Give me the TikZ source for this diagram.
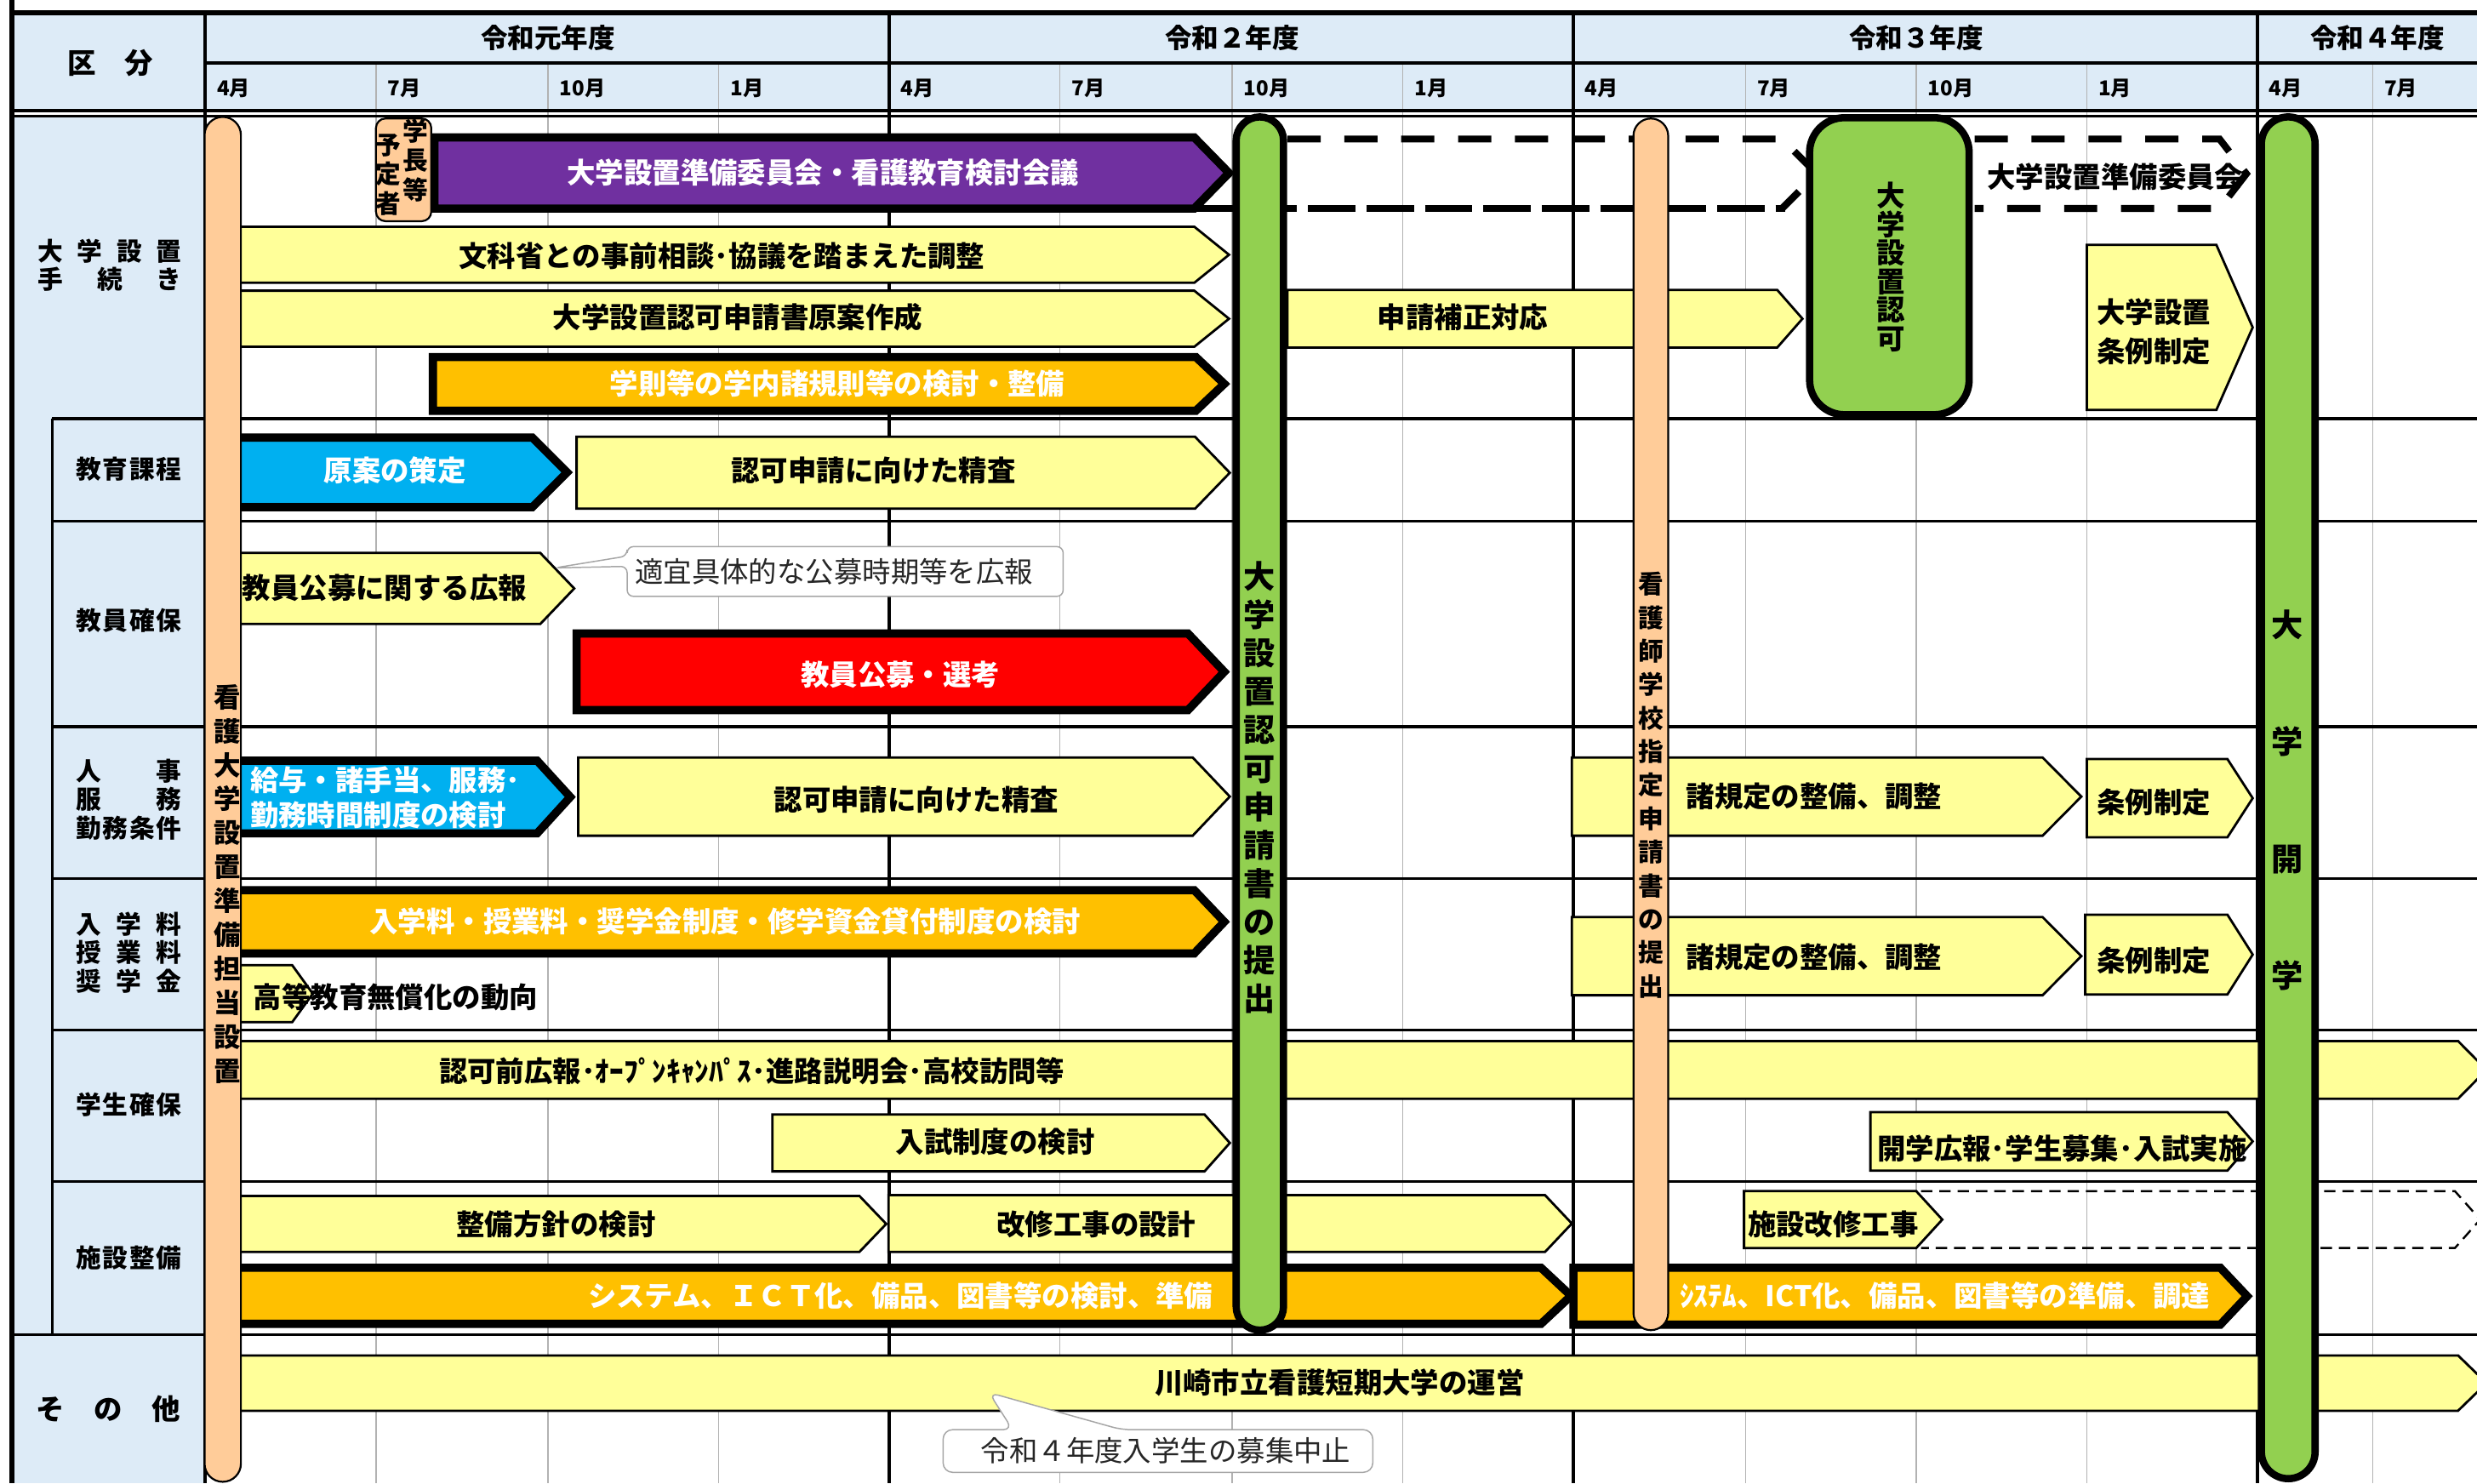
\documentclass[tikz,border=0pt]{standalone}
\usepackage{fontspec}
\setmainfont{Noto Sans CJK JP}
\definecolor{hdr}{HTML}{DDEBF7}
\definecolor{barY}{HTML}{FFFF99}
\definecolor{barO}{HTML}{FFC000}
\definecolor{barB}{HTML}{00B0F0}
\definecolor{barP}{HTML}{7030A0}
\definecolor{barR}{HTML}{FF0000}
\definecolor{barG}{HTML}{92D050}
\definecolor{peach}{HTML}{FFCC99}
% chevron: [style]{left}{tip}{top}{bottom}{tip depth}
\newcommand{\chev}[6][]{\draw[#1] (#2,#4) -- ({#3-#6},#4) -- (#3,{(#4+#5)/2}) -- ({#3-#6},#5) -- (#2,#5) -- cycle;}
\begin{document}
\begin{tikzpicture}[x=0.5pt,y=-0.5pt]
	\tikzstyle{every node}=[inner sep=0pt, font=\bfseries\fontsize{9}{11}\selectfont]
	\tikzstyle{heavy}=[draw=black, line width=2.6pt, line join=miter]
	\tikzstyle{pale}=[draw=black, line width=0.75pt, fill=barY, line join=miter]
	\tikzstyle{month}=[anchor=west, font=\bfseries\fontsize{6.5}{7}\selectfont]
	\tikzstyle{side}=[font=\bfseries\fontsize{8}{9}\selectfont]
	\tikzstyle{note}=[font=\fontsize{9}{10}\selectfont, text=black!85]
	\tikzstyle{callout}=[draw=black!35, line width=0.4pt, fill=white, rounded corners=2pt]
	\tikzstyle{grn}=[draw=black, line width=2.3pt, fill=barG]
	\tikzstyle{pch}=[draw=black, line width=0.6pt, fill=peach]
	\tikzstyle{wht}=[text=white]

	\useasboundingbox (0,0) rectangle (1568,939);
	\clip (0,0) rectangle (1568,939);
	\fill[white] (0,0) rectangle (1568,939);

	% header and side column
	\fill[hdr] (8,8) rectangle (1568,70);
	\fill[hdr] (8,74) rectangle (130,939);
	\foreach \x in {238,347,455,671,780,888,1105,1213,1321,1502}
		\draw[black!30, line width=0.4pt] (\x,40) -- (\x,939);
	\foreach \x in {563,996,1429}
		\draw[line width=1pt] (\x,8) -- (\x,939);
	\draw[line width=1pt] (130,8) -- (130,939);
	\draw[line width=1pt] (130,40) -- (1568,40);
	\draw[line width=1pt] (8,70) -- (1568,70);
	\draw[line width=0.8pt] (8,73.5) -- (1568,73.5);
	\draw[line width=1.5pt] (8,8) -- (1568,8);
	\draw[line width=1.7pt] (7.5,0) -- (7.5,939);
	\foreach \y in {265,330,460,556,652,748}
		\draw[line width=0.9pt] (33,\y) -- (1568,\y);
	\draw[line width=0.9pt] (8,845) -- (1568,845);
	\draw[line width=0.9pt] (33,265) -- (33,845);

	% 大学設置手続き
	\chev[heavy, fill=barP]{275}{778}{87}{132}{22}
	\draw[line width=2.2pt, dash pattern=on 15pt off 3.5pt] (754,132) -- (1130,132);
	\draw[line width=2.2pt, dash pattern=on 10.5pt off 7.5pt] (815,88) -- (1128,88) -- (1150,110) -- (1128,132);
	\draw[line width=2.2pt, dash pattern=on 10.5pt off 7.5pt] (1250,88) -- (1405,88) -- (1422,110) -- (1405,132) -- (1250,132);
	\chev[pale]{145}{778}{143.5}{179}{22}
	\chev[pale]{145}{778}{184}{219.5}{22}
	\chev[pale]{815}{1141}{183.5}{220}{16}
	\chev[heavy, fill=barO]{274}{775}{226}{260}{18}
	\chev[pale]{1321}{1426}{155}{259.5}{23}

	% 教育課程・教員確保
	\chev[heavy, fill=barB]{150}{359}{277}{321}{22}
	\chev[pale]{365}{778.5}{276.5}{322}{22}
	\chev[pale]{145}{363.5}{350}{395}{21.5}
	\draw[callout] (500,346) -- (397,346) -- (397,352) -- (351,359.5) -- (397,358.5) -- (397,377.5) -- (673,377.5) -- (673,346) -- cycle;
	\chev[heavy, fill=barR]{365}{775}{401}{449.5}{23}

	% 人事・入学料
	\chev[heavy, fill=barB]{150}{361}{481.5}{527.5}{21}
	\chev[pale]{366}{778.5}{479.5}{529}{23.5}
	\chev[pale]{995}{1317.5}{479.5}{529}{24.5}
	\chev[pale]{1321}{1426}{480.5}{530}{16}
	\chev[heavy, fill=barO]{150}{775}{563.5}{603.5}{19}
	\chev[pale]{145}{198}{611}{647}{13}
	\chev[pale]{995}{1317.5}{580.5}{630}{24.5}
	\chev[pale]{1320}{1426}{579}{629.5}{16}

	% 学生確保・施設整備
	\chev[pale]{145}{1574}{659}{695.5}{18}
	\chev[pale]{489}{778.5}{705.5}{741.5}{16}
	\chev[pale]{1184}{1426}{704}{741}{16}
	\chev[pale]{145}{561}{757}{792.5}{17}
	\chev[pale]{562.5}{995}{756.5}{792.5}{17}
	\chev[pale]{1104}{1229.5}{754}{790}{16.5}
	\draw[line width=0.65pt, dash pattern=on 3.6pt off 2.2pt] (1216,754) -- (1554,754) -- (1570,772) -- (1554,790) -- (1216,790);
	\chev[heavy, fill=barO]{150}{994.5}{802.5}{838}{19}
	\chev[heavy, fill=barO]{996}{1422.5}{802.5}{838.5}{17}

	% その他
	\chev[pale]{145}{1574}{858}{893}{18}
	\draw[callout, rounded corners=3pt] (720,905) -- (710,905) -- (626,881.5) -- (641,905) -- (597,905) -- (597,932) -- (869,932) -- (869,905) -- cycle;

	% 縦の帯
	\draw[pch, rounded corners=5.75pt] (129.5,74) rectangle (152.5,938);
	\draw[pch, rounded corners=5.5pt] (1034,75) rectangle (1056,842);
	\draw[pch, rounded corners=3pt] (238,75) rectangle (273,140);
	\draw[grn, rounded corners=7.5pt] (782.5,74) rectangle (812.5,842);
	\draw[grn, rounded corners=11pt] (1145.5,74.5) rectangle (1246.5,262.5);
	\draw[grn, rounded corners=8.5pt] (1431.5,74) rectangle (1465.5,936);

	% header texts
	\node[font=\bfseries\fontsize{9}{10}\selectfont] (kubun) at (70,40) {\makebox[27pt][s]{区\hfill 分}};
	\node[font=\bfseries\fontsize{8.5}{10}\selectfont] (r1) at (347,24) {令和元年度};
	\node[font=\bfseries\fontsize{8.5}{10}\selectfont] (r2) at (780,24) {令和２年度};
	\node[font=\bfseries\fontsize{8.5}{10}\selectfont] (r3) at (1213,24) {令和３年度};
	\node[font=\bfseries\fontsize{8.5}{10}\selectfont] (r4) at (1505,24) {令和４年度};
	\foreach \x/\m [count=\i] in {130/4,238/7,347/10,455/1,563/4,671/7,780/10,888/1,996/4,1105/7,1213/10,1321/1,1429/4,1502/7}
		\node[month] (m\i) at (\x+7,56) {\m 月};

	% side texts
	\node[side, align=center] (tetsuzuki) at (69.5,168) {\makebox[45.5pt][s]{大\hfill 学\hfill 設\hfill 置}\\\makebox[45.5pt][s]{手\hfill 続\hfill き}};
	\node[side] (katei) at (81.5,297) {\makebox[33.5pt][s]{教\hfill 育\hfill 課\hfill 程}};
	\node[side] (kakuho) at (81.5,393) {\makebox[33.5pt][s]{教\hfill 員\hfill 確\hfill 保}};
	\node[side, align=center] (jinji) at (81.5,506) {\makebox[33.5pt][s]{人\hfill 事}\\\makebox[33.5pt][s]{服\hfill 務}\\\makebox[33.5pt][s]{勤\hfill 務\hfill 条\hfill 件}};
	\node[side, align=center] (ryokin) at (81.5,603) {\makebox[33.5pt][s]{入\hfill 学\hfill 料}\\\makebox[33.5pt][s]{授\hfill 業\hfill 料}\\\makebox[33.5pt][s]{奨\hfill 学\hfill 金}};
	\node[side] (gakusei) at (81.5,699) {\makebox[33.5pt][s]{学\hfill 生\hfill 確\hfill 保}};
	\node[side] (shisetsu) at (81.5,796) {\makebox[33.5pt][s]{施\hfill 設\hfill 整\hfill 備}};
	\node[font=\bfseries\fontsize{9}{10}\selectfont] (sonota) at (68.5,892) {\makebox[45.5pt][s]{そ\hfill の\hfill 他}};

	% vertical texts
	\node[align=center, font=\bfseries\fontsize{8.5}{10.75}\selectfont] (tanto) at (144,559.5) {看\\護\\大\\学\\設\\置\\準\\備\\担\\当\\設\\置};
	\node[align=center, font=\bfseries\fontsize{10}{12.15}\selectfont] (teishutsu) at (797,498.5) {大\\学\\設\\置\\認\\可\\申\\請\\書\\の\\提\\出};
	\node[align=center, font=\bfseries\fontsize{8}{10.6}\selectfont] (shitei) at (1045,497) {看\\護\\師\\学\\校\\指\\定\\申\\請\\書\\の\\提\\出};
	\node[align=center, font=\bfseries\fontsize{9}{9}\selectfont] (ninka) at (1197,169) {大\\学\\設\\置\\認\\可};
	\node[align=center, font=\bfseries\fontsize{10}{37}\selectfont] (kaigaku) at (1448,506.5) {大\\学\\開\\学};
	\node[align=center, font=\bfseries\fontsize{8}{9.25}\selectfont] (gakucho) at (263,101.5) {学\\長\\等};
	\node[align=center, font=\bfseries\fontsize{8}{9.25}\selectfont] (yotei) at (246,110.5) {予\\定\\者};

	% bar texts
	\node[wht] (iinkai) at (521,109) {大学設置準備委員会・看護教育検討会議};
	\node (monka) at (457,162) {文科省との事前相談･協議を踏まえた調整};
	\node (gen) at (467,201) {大学設置認可申請書原案作成};
	\node (hosei) at (926,201) {申請補正対応};
	\node[wht] (gakusoku) at (530,243) {学則等の学内諸規則等の検討・整備};
	\node[anchor=west, align=left, font=\bfseries\fontsize{9}{12.5}\selectfont] (jorei) at (1327,210) {大学設置\\条例制定};
	\node (iinkai2) at (1339,112) {大学設置準備委員会};
	\node[wht] (gen2) at (250,298) {原案の策定};
	\node (seisa) at (553,298) {認可申請に向けた精査};
	\node[anchor=west] (koho) at (153,372) {教員公募に関する広報};
	\node[note] (tekigi) at (528,362) {適宜具体的な公募時期等を広報};
	\node[wht] (senko) at (570,427) {教員公募・選考};
	\node[wht, anchor=west, align=left, font=\bfseries\fontsize{9}{11}\selectfont] (kyuyo) at (158,505) {給与・諸手当、服務･\\勤務時間制度の検討};
	\node (seisa2) at (580,506) {認可申請に向けた精査};
	\node[anchor=west] (kitei) at (1067,504) {諸規定の整備、調整};
	\node[anchor=west] (jorei2) at (1327,508) {条例制定};
	\node[wht] (nyugaku) at (459,583) {入学料・授業料・奨学金制度・修学資金貸付制度の検討};
	\node[anchor=west] (mushoka) at (160,631) {高等教育無償化の動向};
	\node[anchor=west] (kitei2) at (1067,606) {諸規定の整備、調整};
	\node[anchor=west] (jorei3) at (1327,608) {条例制定};
	\node (zenkoho) at (476,678) {認可前広報･ｵｰﾌﾟﾝｷｬﾝﾊﾟｽ･進路説明会･高校訪問等};
	\node (nyushi) at (630,723) {入試制度の検討};
	\node[anchor=west] (kaigakukoho) at (1188,727) {開学広報･学生募集･入試実施};
	\node (hoshin) at (352,775) {整備方針の検討};
	\node (sekkei) at (694,775) {改修工事の設計};
	\node[anchor=west] (kaishu) at (1106,775) {施設改修工事};
	\node[wht] (system) at (570,820) {システム、ＩＣＴ化、備品、図書等の検討、準備};
	\node[wht, anchor=west, font=\bfseries\fontsize{9}{11}\selectfont] (system2) at (1063,820) {ｼｽﾃﾑ、ICT化、備品、図書等の準備、調達};
	\node (unei) at (848,875) {川崎市立看護短期大学の運営};
	\node[note] (boshu) at (738,918) {令和４年度入学生の募集中止};
\end{tikzpicture}
\end{document}
